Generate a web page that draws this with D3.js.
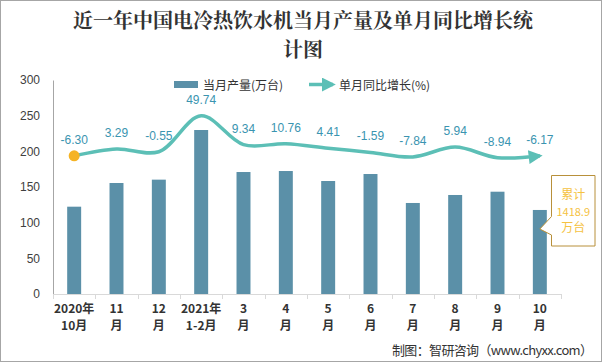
<!DOCTYPE html>
<html><head><meta charset="utf-8">
<script src="https://cdn.jsdelivr.net/npm/d3@7/dist/d3.min.js"></script>
<style>
body{margin:0;background:#fff;}
svg{display:block;font-family:"Noto Sans CJK SC","Noto Sans",sans-serif;}
</style></head>
<body>
<svg id="c" width="606" height="363"></svg>
<script>
const categories = [["2020年","10月"],["11","月"],["12","月"],["2021年","1-2月"],["3","月"],["4","月"],["5","月"],["6","月"],["7","月"],["8","月"],["9","月"],["10","月"]];
const production = [122.4,155.6,160.3,229.9,171,172.4,158.4,168.2,127.6,138.8,143.4,117.8];
const growth = [-6.30,3.29,-0.55,49.74,9.34,10.76,4.41,-1.59,-7.84,5.94,-8.94,-6.17];
const growthLabels = ["-6.30","3.29","-0.55","49.74","9.34","10.76","4.41","-1.59","-7.84","5.94","-8.94","-6.17"];
const yTicks = [0,50,100,150,200,250,300];
const titleLines = ["近一年中国电冷热饮水机当月产量及单月同比增长统","计图"];
const legendLabels = ["当月产量(万台)","单月同比增长(%)"];
const noteLines = ["累计","1418.9","万台"];
const source = "制图：智研咨询（www.chyxx.com）";

const svg = d3.select("#c");
const barColor = "#5b90a8", lineColor = "#5cbfb6", labelColor = "#3a94b0";

// frame
svg.append("rect").attr("x",0.5).attr("y",0.5).attr("width",601).attr("height",361)
  .attr("fill","#fff").attr("stroke","#a6a6a6");

// title
svg.append("g").selectAll("text").data(titleLines).join("text")
  .attr("x",303).attr("y",(d,i)=>28+i*29).attr("text-anchor","middle")
  .attr("font-family",'"Noto Serif CJK SC","Noto Sans CJK SC",serif')
  .attr("font-size",20).attr("font-weight","bold").attr("fill","#333").text(d=>d);

const x = d3.scaleBand().domain(d3.range(categories.length)).range([53,561]).paddingInner(0.67).paddingOuter(0.335);
const xb = d3.scaleBand().domain(d3.range(categories.length)).range([53,561]);
const y = d3.scaleLinear().domain([0,300]).range([294,80]);
const y2 = d3.scaleLinear().domain([-200,100]).range([294,80]);

// y axis
const ya = svg.append("g").attr("transform","translate(53,0)")
  .call(d3.axisLeft(y).tickValues(yTicks).tickSize(0).tickPadding(13));
ya.select(".domain").attr("stroke","#a6a6a6");
ya.selectAll("text").attr("font-size",12).attr("fill","#404040").attr("font-family",'"Liberation Sans",sans-serif');

// x axis line + ticks
svg.append("line").attr("x1",53).attr("x2",561).attr("y1",294.5).attr("y2",294.5).attr("stroke","#d9d9d9");
svg.append("g").selectAll("line").data(d3.range(categories.length+1)).join("line")
  .attr("x1",i=>Math.round(53+xb.step()*i)+0.5).attr("x2",i=>Math.round(53+xb.step()*i)+0.5)
  .attr("y1",294).attr("y2",299).attr("stroke","#d9d9d9");

// x labels
const xl = svg.append("g").selectAll("text").data(categories).join("text")
  .attr("text-anchor","middle").attr("font-size",12).attr("font-weight","bold").attr("fill","#333")
  .attr("transform",(d,i)=>`translate(${xb(i)+xb.bandwidth()/2},0)`);
xl.append("tspan").attr("x",0).attr("y",313).text(d=>d[0]);
xl.append("tspan").attr("x",0).attr("y",330).text(d=>d[1]);

// bars
svg.append("g").selectAll("rect").data(production).join("rect")
  .attr("x",(d,i)=>x(i)).attr("width",x.bandwidth())
  .attr("y",d=>y(d)).attr("height",d=>294-y(d)).attr("fill",barColor);

// line
const cx = i => xb(i)+xb.bandwidth()/2;
const defs = svg.append("defs");
defs.append("marker").attr("id","arr").attr("viewBox","0 0 10 10").attr("refX",8).attr("refY",5)
  .attr("markerWidth",4).attr("markerHeight",4).attr("orient","auto").attr("markerUnits","strokeWidth")
  .append("path").attr("d","M0,0L10,5L0,10Z").attr("fill",lineColor);
const line = d3.line().x((d,i)=>cx(i)).y(d=>y2(d)).curve(d3.curveCatmullRom.alpha(0.5));
svg.append("path").datum(growth).attr("d",line).attr("fill","none")
  .attr("stroke",lineColor).attr("stroke-width",3.5).attr("marker-end","url(#arr)");
svg.append("circle").attr("cx",cx(0)).attr("cy",y2(growth[0])).attr("r",5.5).attr("fill","#f5b324");

// labels
svg.append("g").selectAll("text").data(growth).join("text")
  .attr("x",(d,i)=>cx(i)).attr("y",d=>y2(d)-12).attr("text-anchor","middle")
  .attr("font-size",12).attr("fill",labelColor).attr("font-family",'"Liberation Sans",sans-serif')
  .text((d,i)=>growthLabels[i]);

// legend
svg.append("rect").attr("x",174).attr("y",81).attr("width",24).attr("height",7).attr("fill",barColor);
svg.append("text").attr("x",203).attr("y",89.5).attr("font-size",12).attr("fill","#333").text(legendLabels[0]);
svg.append("line").attr("x1",309).attr("x2",333).attr("y1",84.5).attr("y2",84.5)
  .attr("stroke",lineColor).attr("stroke-width",3.5).attr("marker-end","url(#arr)");
svg.append("text").attr("x",339).attr("y",89.5).attr("font-size",12).attr("fill","#333").text(legendLabels[1]);

// annotation callout
const bx=551.5, by=175.5, bw=43.5, bh=70.5;
svg.append("path").attr("d",`M${bx},${by}H${bx+bw}V${by+bh}H${bx}V235L${cx(11)},229L${bx},216.5Z`)
  .attr("fill","#fff").attr("stroke","#b8903a").attr("stroke-width",1);
svg.append("g").selectAll("text").data(noteLines).join("text")
  .attr("x",bx+bw/2).attr("y",(d,i)=>199+i*16.5).attr("text-anchor","middle")
  .attr("font-size",(d,i)=>i===1?11:12).attr("fill","#f5c242").text(d=>d);

// source
svg.append("text").attr("x",392).attr("y",355).attr("font-size",13).attr("fill","#333")
  .attr("textLength",201).attr("lengthAdjust","spacing").text(source);
</script>
</body></html>
